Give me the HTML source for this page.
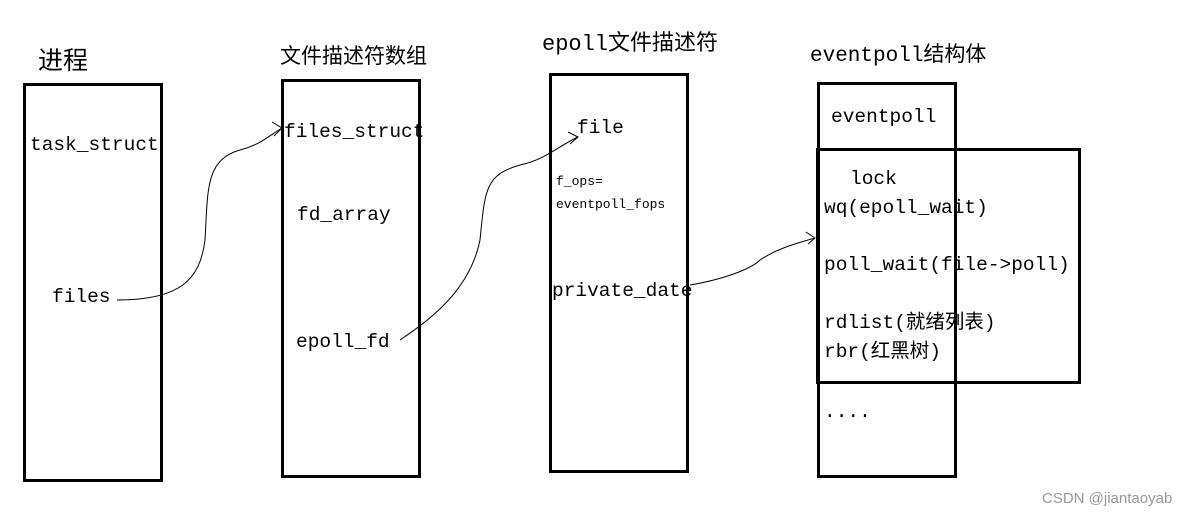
<!DOCTYPE html>
<html><head><meta charset="utf-8"><style>
body{margin:0;background:#fff;width:1191px;height:516px;overflow:hidden}
</style></head><body>
<svg width="1191" height="516" xmlns="http://www.w3.org/2000/svg" font-family="Liberation Mono, Noto Sans CJK SC, monospace">
<g fill="none" stroke="#000" stroke-width="3">
<rect x="24.5" y="84.5" width="137" height="396"/>
<rect x="282.5" y="80.5" width="137" height="396"/>
<rect x="550.5" y="74.5" width="137" height="397"/>
<rect x="818.5" y="83.5" width="137" height="393"/>
<rect x="817.5" y="149.5" width="262" height="233"/>
</g>
<g fill="none" stroke="#000" stroke-width="1">
<path d="M117 300 C180 300 200 280 205 240 C208 190 205 160 240 150 C260 145 270 135 282 128"/>
<path d="M272 122 L282 128 L274 136"/>
<path d="M400 340 C430 320 470 290 480 240 C485 190 485 175 520 165 C545 160 560 145 578 137"/>
<path d="M568 132 L578 137 L570 144"/>
<path d="M690 285 C720 280 750 270 760 260 C775 250 790 245 815 238"/>
<path d="M806 232 L815 238 L808 244"/>
</g>
<g font-size="19.5" fill="#000">
<text x="30" y="150">task_struct</text>
<text x="52" y="302">files</text>
<text x="284" y="137">files_struct</text>
<text x="297" y="220">fd_array</text>
<text x="296" y="347">epoll_fd</text>
<text x="577" y="133">file</text>
<text x="552" y="296">private_date</text>
<text x="831" y="122">eventpoll</text>
<text x="850" y="184">lock</text>
<text x="824" y="213">wq(epoll_wait)</text>
<text x="824" y="270">poll_wait(file-&gt;poll)</text>
<text x="824" y="328">rdlist(就绪列表)</text>
<text x="824" y="357">rbr(红黑树)</text>
<text x="824" y="417">....</text>
</g>
<g font-size="13" fill="#000">
<text x="556" y="185">f_ops=</text>
<text x="556" y="208">eventpoll_fops</text>
</g>
<g fill="#000">
<text x="38" y="69" font-size="25" font-family="Liberation Sans, Noto Sans CJK SC, sans-serif">进程</text>
<text x="280" y="63" font-size="21" font-family="Liberation Sans, Noto Sans CJK SC, sans-serif">文件描述符数组</text>
<text x="542" y="50" font-size="22">epoll文件描述符</text>
<text x="810" y="61" font-size="21">eventpoll结构体</text>
<text x="1042" y="503" font-size="15" fill="#999" font-family="Liberation Sans, sans-serif">CSDN @jiantaoyab</text>
</g>
</svg>
</body></html>
